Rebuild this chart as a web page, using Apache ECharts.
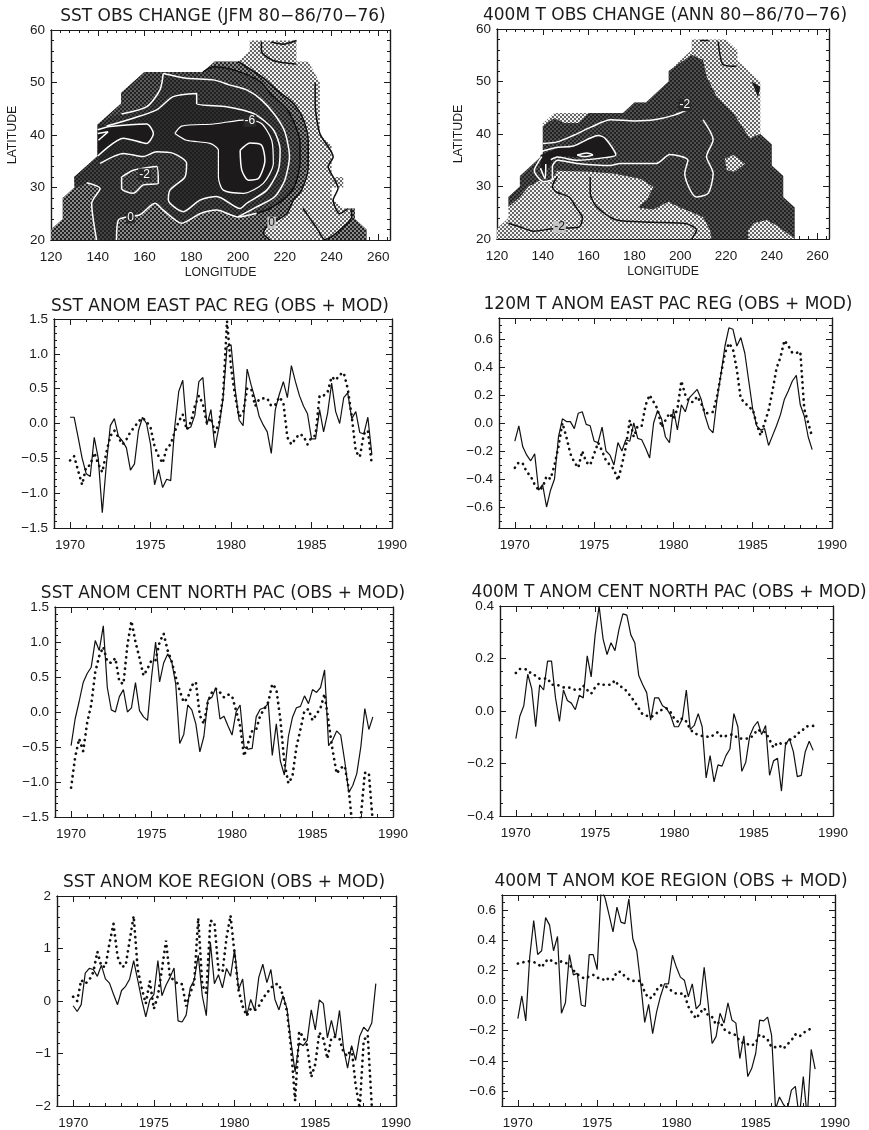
<!DOCTYPE html>
<html><head><meta charset="utf-8">
<style>html,body{margin:0;padding:0;background:#fff}#c{width:869px;height:1130px}</style>
<script src="https://cdn.jsdelivr.net/npm/echarts@6/dist/echarts.min.js"></script>
</head><body><div id="c"></div>
<script>
// ---------- time-series values (quarterly from 1970.0) ----------
const eastSstObs=[.09,.09,-.2,-.5,-.72,-.76,-.2,-.5,-1.28,-.6,-.03,.07,-.18,-.25,-.35,-.67,-.58,-.1,.09,0,-.3,-.88,-.66,-.92,-.8,-.82,-.05,.46,.62,-.08,-.05,.12,.6,.66,-.02,.2,-.35,-.05,.35,1.1,1.13,.5,.05,-.03,.78,.55,.35,.1,-.02,-.12,-.43,.2,.42,.6,.37,.83,.6,.4,.25,.14,-.22,-.22,.2,-.12,.15,.58,.17,0,.37,.44,.07,.17,-.13,-.15,.09,-.45];
const eastSstMod=[-.53,-.47,-.68,-.88,-.62,-.6,-.42,-.58,-.7,-.42,-.18,-.1,-.2,-.3,-.23,-.12,-.05,.03,.08,.03,-.06,-.33,-.47,-.57,-.35,-.3,-.12,.03,.13,-.09,.02,.25,.4,.28,0,.08,-.13,0,.38,1.47,.8,.4,.1,.15,.5,.5,.25,.35,.36,.36,.25,.27,.38,.3,-.2,-.3,-.22,-.15,-.18,-.3,-.2,-.17,.4,.4,.45,.67,.62,.7,.73,.5,.1,-.4,-.48,-.15,-.1,-.6];
const east120Obs=[-.13,-.02,-.17,-.23,-.27,-.22,-.48,-.44,-.6,-.48,-.4,-.1,.03,.01,.01,-.04,.07,.08,-.01,-.02,-.13,-.14,-.03,-.2,-.23,-.3,-.14,-.2,-.12,-.13,0,-.11,-.12,-.18,-.25,0,.09,.03,-.1,-.14,.1,-.05,.13,.08,.18,.21,.24,.17,.05,-.04,-.07,.17,.35,.55,.68,.67,.55,.61,.5,.3,.1,-.02,-.05,-.04,-.16,-.09,-.02,.06,.17,.23,.3,.34,.13,.05,-.1,-.19];
const east120Mod=[-.32,-.28,-.29,-.35,-.38,-.44,-.48,-.46,-.38,-.4,-.3,-.17,0,-.1,-.22,-.28,-.32,-.2,-.28,-.3,-.22,-.14,-.2,-.27,-.3,-.33,-.41,-.3,-.17,.02,-.1,-.02,-.02,.13,.2,.15,.1,-.03,.02,.07,.03,.1,.3,.2,.15,.15,.19,.14,.07,.07,.08,.19,.35,.5,.57,.53,.38,.17,.15,.11,.1,-.01,-.09,0,.09,.23,.39,.47,.59,.55,.5,.5,.51,.1,0,-.1];
const centSstObs=[-.48,-.1,.15,.42,.55,.64,1.02,.88,1.23,.35,.03,0,.22,.32,0,.06,.42,.02,-.07,-.12,.5,1.0,.43,.7,.83,.72,.4,-.45,-.32,.1,.03,-.17,-.57,-.35,.17,.21,.35,-.1,-.06,-.2,-.33,0,.1,-.5,-.53,-.52,-.07,.04,.06,.12,-.62,-.17,-.7,-.9,-.35,-.08,.06,.08,.23,.12,.32,.28,.35,.6,-.48,-.4,-.27,-.33,-.7,-1.15,-1.05,-.88,-.5,.05,-.25,-.07];
const centSstMod=[-1.08,-.65,-.38,-.56,-.15,.1,.57,.8,.93,.72,.7,.77,.43,.4,.96,1.3,1,.77,.52,.62,.74,.74,1,1.12,.88,.72,.5,.3,.14,.2,.38,.43,-.05,-.17,.15,.28,.33,.28,.21,.25,.23,.02,-.2,-.63,-.44,-.27,-.25,-.05,.04,.14,.4,.33,-.1,-.72,-1.02,-.92,-.5,-.25,.02,.04,-.12,-.03,.06,.26,-.15,-.55,-.88,-.8,-.77,-1.1,-1.7,-1.75,-1.5,-.87,-.87,-1.6];
const cent400Obs=[-.105,-.02,.02,.14,.085,-.06,.1,.08,.19,.19,.05,-.04,.08,.04,.03,.005,.06,.05,.21,.13,.29,.4,.275,.215,.26,.23,.31,.37,.365,.29,.26,.135,.1,.07,-.035,.05,.05,.02,.01,-.015,-.06,-.06,-.03,.08,-.07,-.055,-.01,-.06,-.255,-.17,-.27,-.205,-.21,-.17,-.145,-.01,-.06,-.23,-.195,-.095,-.06,-.04,-.09,-.055,-.245,-.19,-.18,-.305,-.13,-.105,-.155,-.25,-.245,-.155,-.115,-.15];
const cent400Mod=[.145,.16,.16,.157,.14,.135,.123,.123,.125,.1,.1,.097,.09,.09,.088,.08,.08,.097,.08,.066,.09,.105,.1,.1,.1,.117,.095,.09,.075,.055,.034,.01,-.014,-.018,-.023,-.017,0,.005,.01,-.004,-.03,-.042,-.027,-.04,-.07,-.085,-.09,-.095,-.097,-.1,-.09,-.08,-.1,-.095,-.09,-.09,-.105,-.105,-.105,-.105,-.09,-.07,-.08,-.08,-.11,-.14,-.12,-.125,-.125,-.11,-.105,-.085,-.08,-.06,-.057,-.057];
const koeSstObs=[-.09,-.2,-.07,.53,.62,.6,.47,.68,.42,.34,.13,-.07,.2,.28,.42,.77,.4,.02,-.3,.02,.12,.77,.1,.3,.45,.63,-.38,-.4,-.27,.25,.4,.87,.1,-.28,1.12,.33,.5,.25,.62,.47,.98,.22,.42,-.28,.03,-.18,.45,.7,.35,.6,.03,-.17,.1,-.15,-.8,-1.35,-.8,-.85,-.75,-.17,-.55,.02,-.05,-.7,-.37,-.7,-.18,-.9,-1.28,-.85,-1.13,-.67,-.5,-.58,-.42,.33];
const koeSstMod=[.08,0,.4,.33,.4,.55,.94,.66,.65,1.1,1.47,.85,.65,.67,1.15,1.62,.6,.24,-.05,.38,-.15,.1,.6,1.15,.45,.4,.32,.32,-.1,.15,.35,1.58,.3,.15,1.53,1.5,.6,.55,1.2,1.63,.9,.2,-.1,-.28,-.15,-.18,-.1,.05,.15,.25,.32,.32,.1,-.2,-.9,-1.9,-.58,-.68,-.85,-1.45,-1.2,-.6,-.72,-1.1,-.7,-.68,-.72,-.98,-1.05,-.9,-1.6,-2.05,-.75,-.65,-2,-2.2];
const koe400Obs=[-.12,.03,-.135,.29,.53,.305,.33,.55,.5,.33,.425,-.085,-.015,.305,.17,.18,-.03,-.04,.305,.305,.205,.74,.68,.57,.455,.62,.52,.51,.675,.41,.33,.11,-.145,-.025,-.22,-.075,.03,.11,.11,.3,.22,.155,.135,.025,.11,-.055,-.025,.22,-.02,-.285,-.24,-.085,-.15,-.015,-.13,-.15,-.385,-.235,-.505,-.45,-.35,-.13,-.135,-.11,-.23,-.72,-.64,-.69,-.72,-.595,-.57,-.78,-.505,-.78,-.325,-.455];
const koe400Mod=[.245,.25,.26,.26,.255,.245,.22,.26,.275,.25,.245,.26,.25,.24,.2,.175,.155,.145,.16,.17,.15,.15,.13,.15,.14,.19,.19,.16,.14,.13,.13,.13,.055,.015,.02,.07,.1,.1,.08,.06,.045,.045,.045,-.04,-.085,-.12,-.08,-.05,-.1,-.11,-.16,-.14,-.19,-.21,-.22,-.23,-.27,-.285,-.29,-.3,-.28,-.225,-.24,-.26,-.31,-.31,-.3,-.32,-.29,-.265,-.225,-.24,-.215,-.2,-.185];

// ---------- map A: regions and contours, [longitude, latitude] ----------
const aOuter=[[120,20],[120,22],[125,24],[125,28],[130,30],[130,32],[140,36],[140,42],[150,46],[150,48],[160,52],[185,52],[190,54],[200,54],[205,56],[205,58],[225,58],[225,54],[230,54],[235,50],[235,40],[240,38],[240,32],[245,32],[245,30],[240,30],[240,28],[245,26],[250,26],[250,24],[255,22],[255,20]];
const aEastBand=[[237,20],[240.8,20.9],[245,22.5],[248.6,24.4],[248.3,26],[250,26],[250,24],[255,22],[255,20]];
const aLight=[[200,54],[211,50.8],[216.5,48.6],[223.7,46],[228,42.9],[230,39],[230,34],[227.2,29.5],[223.7,27.6],[220.8,25],[212.3,22.5],[210.8,21.3],[213.7,20]];
const aMid=[[120,20],[120,22],[125,24],[125,28],[130,30],[130,32],[140,36],[140,42],[150,46],[150,48],[160,52],[185,52],[190,54]].concat(aLight);
const aSouthWest=[[135.3,30.9],[141,29.8],[137.4,27],[139.5,20]];
const aSouth=[[208,25.1],[200,24.4],[190.9,25.7],[183.7,25],[175.9,23.2],[168,25.7],[164.5,27],[158,24.8],[152.4,24.4],[148.8,23.8],[148,20]];
const aRing=[[185,52],[189.5,53],[198,52.4],[209.4,50.2],[214.4,47.6],[220.8,45],[224.4,41.9],[226.5,38.7],[226.5,34.9],[224.4,30.5],[220.8,28.3],[213.7,26],[208,25.1]];
const aNw=[[150.2,44],[161,45.4],[166.6,48.6],[168,51.7]];
const aInner=[[168,51.7],[178,50.8],[189.5,50.5],[196.6,49.5],[203.7,48.6],[210,46.7],[215.8,43.8],[220,40.6],[222,35.9],[220,31.4],[215.8,28.3],[208,26.3],[200,24.4]];
const aCore=[[143.8,41.7],[155.2,43.2],[165.2,44.8],[172.3,47.3],[182.3,47.9],[182.3,46],[195.1,45.4],[206.6,44.1],[215.1,41],[218,37.1],[217.2,33.3],[212.3,29.5],[203.7,27],[200.9,26],[190.9,28.3],[183.7,27.6],[176.6,25.4],[170.2,27.6],[170.9,29.5],[177.3,32],[178,34.6],[172.3,36.5],[165.2,36.8],[159.5,35.9],[151,36.5],[141,34.6]];
const aBlackEast=[[173,40.3],[175.9,41.7],[189.4,42.1],[203.7,42.9],[210,42.2],[214.4,39],[215.1,34.6],[210.8,30.8],[202.3,28.9],[193.7,29.5],[191.6,32],[191.6,37.1],[188,38.4],[178,39],[173,40.3]];
const aBlackWest=[[140,41],[145.2,41.6],[160.9,42.1],[163.8,40.3],[160.9,38.4],[151,39.4],[140,36]];
const aChevron=[[140,40.3],[144.4,40.6],[140.3,39]];
const aCentre=[[200.9,37.1],[205.1,38.5],[210,38.1],[211.5,35.2],[208.7,31.7],[204.4,31.4],[201.6,33.3],[200.9,37.1]];
const aPocket=[[150.2,32],[155.2,33.3],[165.2,34],[165.9,30.8],[159.5,30.5],[155.2,28.9],[150.2,29.8],[150.2,32]];
const aEast1=[[233,50],[233,46],[235,40.3],[240.7,35.8],[238.5,34],[240.7,32],[242.8,29.9],[240.7,27.6],[243.5,25],[247,26]];
const aEast2=[[227.8,26],[234.2,21.9],[237,20.1],[240.8,20.9],[245,22.5],[248.6,24.4],[248.3,26]];
const aTop1=[[210,57.7],[210,56],[215,54.2],[225,53.5]];
const aTop2=[[214.2,57.7],[219.2,57.3],[225,58]];
const aLabels=[[205.1,42.7,'-6','#fff'],[154,24.3,'0','#fff'],[160,32.5,'-2','#fff'],[214.4,23.3,'0','#111']];

// ---------- map B ----------
const bOuter=[[120,20],[120,22],[125,24],[125,28],[130,30],[130,32],[140,36],[140,42],[145,44],[160,44],[175,44],[180,46],[185,46],[195,50],[195,52],[205,56],[205,58],[220,58],[225,56],[225,54],[235,50],[235,40],[240,38],[240,34],[245,32],[245,28],[250,26],[250,20]];
const bDark=[[125,26.1],[125,28],[130,30],[130,32],[140,36],[140,41.5],[145,43],[149.6,42.1],[155.4,42.1],[160,44],[175,44],[180,46],[185,46],[195,50],[195,52],[205,55.1],[210,54.1],[211.5,51],[215.9,47.2],[223.2,44],[230.4,39.2],[235,40],[240,38],[240,34],[245,32],[245,28],[250,26],[250,20],[213.7,20],[213,21.7],[210,24.2],[199.9,26],[194.8,27.1],[188.3,25.6],[181.3,26],[185.4,27.4],[188.3,29.9],[182.5,31.5],[170.9,32.5],[160.7,32.8],[146.2,33],[144,31.2],[141,30.7],[138.9,31.2],[133.8,30],[130,28]];
const bPatchSe=[[229.7,20],[229.7,21.7],[232,23],[237.7,23.6],[242,22.6],[249.3,20.3],[250,20]];
const bPatchE=[[219.5,35.3],[223.2,36],[228.3,34.4],[224,32.8],[220.4,33.1]];
const bPatchNe=[[231.2,50],[235,49],[234,47]];
const bBlack=[[139,36],[146,37.2],[154,38],[165,39.6],[167,39.8],[171.6,36],[167,35.5],[155,35.6],[146,35.8],[143,34],[141,32.5],[139,33.5]];
const bWhite1=[[140,38.2],[146.4,38.5],[153.7,39.8],[161,41.3],[169.7,42.7],[180,42.5],[188.7,42.7],[197.4,43.6],[204.6,44.9]];
const bWhite2=[[210,42.7],[214.4,38.9],[211.5,35.7],[214.4,32.5],[212.2,28.7],[207,28],[202,32.5],[203.4,35],[195.5,36.1],[189.6,34.4],[173.8,34.4],[169.4,34],[155,34.4],[146.4,35],[144.2,33.8],[144.2,31.5],[140.6,30.9],[136.3,33],[139.6,35.7]];
const bWhite3=[[139.6,36.7],[145.4,37.4],[153.4,37.7],[164.3,39.7],[167.2,39.2],[171.9,36],[167,35.5],[155,35],[146.4,35.6],[143.5,35.1]];
const bWhite4=[[155,36],[159.2,36.4],[161.8,36],[158,35.7],[155,36]];
const bWhite5=[[139,33.5],[141,31.5],[141.3,34.3]];
const bBlack1=[[216.6,57.6],[218.8,53.2],[224.6,52.9]];
const bBlack2=[[208.6,57.8],[212.3,57.8]];
const bBlack3=[[125,23],[130.2,22.3],[136,21.5],[144.7,22],[155.9,22.3],[157.3,24],[154.4,26.1],[151.5,28],[145.7,29],[144.2,30],[146.4,31.9]];
const bBlack4=[[160.7,31.8],[160.7,28.7],[163.6,26.1],[172.3,23.6],[188.3,23.2],[202.8,22.9],[207.2,21.7],[205,20]];
const bLabels=[[202,45.5,'-2','#fff'],[147.3,22.3,'-2','#111']];

// ---------- text and tick labels ----------
const titles=['SST OBS CHANGE (JFM 80\u221286/70\u221276)','400M T OBS CHANGE (ANN 80\u221286/70\u221276)','SST ANOM EAST PAC REG (OBS + MOD)','120M T ANOM EAST PAC REG (OBS + MOD)','SST ANOM CENT NORTH PAC (OBS + MOD)','400M T ANOM CENT NORTH PAC (OBS + MOD)','SST ANOM KOE REGION (OBS + MOD)','400M T ANOM KOE REGION (OBS + MOD)'];
const lonTicks=[120,140,160,180,200,220,240,260];
const latTicks=[20,30,40,50,60];
const yearTicks=[1970,1975,1980,1985,1990];
const sstTicks=[-1.5,-1,-.5,0,.5,1,1.5];
const t120Ticks=[-.6,-.4,-.2,0,.2,.4,.6];
const t400Ticks=[-.4,-.2,0,.2,.4];
const koeSstTicks=[-2,-1,0,1,2];

// ---------- layout ----------
const panels=[
 {box:[51,30,339,210],tx:223,ty:8,x:[120,265],xt:lonTicks,xm:4,y:[20,60],yt:latTicks,ym:2,fmt:0},
 {box:[497,29,332,210],tx:665,ty:7,x:[120,265],xt:lonTicks,xm:4,y:[20,60],yt:latTicks,ym:2,fmt:0},
 {box:[54,319,338,209],tx:220,ty:298,x:[1969,1990],xt:yearTicks,xm:1,y:[-1.5,1.5],yt:sstTicks,ym:.1,fmt:1,obs:eastSstObs,mod:eastSstMod},
 {box:[499,318,333,210],tx:668,ty:296,x:[1969,1990],xt:yearTicks,xm:1,y:[-.75,.75],yt:t120Ticks,ym:.05,fmt:1,obs:east120Obs,mod:east120Mod},
 {box:[55,607,338,210],tx:223,ty:585,x:[1969,1990],xt:yearTicks,xm:1,y:[-1.5,1.5],yt:sstTicks,ym:.1,fmt:1,obs:centSstObs,mod:centSstMod},
 {box:[500,606,333,210],tx:669,ty:584,x:[1969,1990],xt:yearTicks,xm:1,y:[-.4,.4],yt:t400Ticks,ym:.05,fmt:1,obs:cent400Obs,mod:cent400Mod},
 {box:[57,896,339,211],tx:224,ty:874,x:[1969,1990],xt:yearTicks,xm:1,y:[-2,2],yt:koeSstTicks,ym:.2,fmt:0,obs:koeSstObs,mod:koeSstMod},
 {box:[502,895,333,211],tx:671,ty:873,x:[1969,1990],xt:yearTicks,xm:1,y:[-.7,.7],yt:t120Ticks,ym:.05,fmt:1,obs:koe400Obs,mod:koe400Mod}
];
const FONT='"Liberation Sans",Arial,sans-serif', TITLE_FONT='"DejaVu Sans",sans-serif', INK='#1c1a1a';

function stipple(bg,fg,size){
  const c=document.createElement('canvas');c.width=c.height=4;
  const g=c.getContext('2d');g.fillStyle=bg;g.fillRect(0,0,4,4);g.fillStyle=fg;
  g.fillRect(0,0,size,size);g.fillRect(2,2,size,size);
  return {image:c,repeat:'repeat'};
}
const L1=stipple('#f2f2f2','#666',2), L2=stipple('#222','#8a8a8a',2), L3=stipple('#222','#5c5c5c',2),
      L4=stipple('#202020','#444',2), L5=stipple('#1e1e1e','#2e2e2e',2), L6='#1c1a1a', LB=stipple('#222','#505050',2);

function steps(lo,hi,st){const r=[];const n=Math.round((hi-lo)/st);for(let k=0;k<=n;k++)r.push(+(lo+k*st).toFixed(4));return r;}
function minorList(p){
  const first=Math.ceil(p.y[0]/p.ym-1e-9)*p.ym;
  return steps(first,p.y[1],p.ym).filter(v=>v>=p.y[0]&&v<=p.y[1]);
}
function minusFmt(fmt){return v=>(fmt?v.toFixed(1):String(Math.round(v))).replace('-','\u2212');}

const grids=[],xAxes=[],yAxes=[],series=[],title=[];
panels.forEach((p,g)=>{
  const [l,t,w,h]=p.box;
  grids.push({left:l,top:t,width:w,height:h,show:false});
  title.push({text:titles[g],left:p.tx,top:p.ty,textAlign:'center',padding:0,
    textStyle:{fontFamily:TITLE_FONT,fontWeight:'normal',fontSize:17,color:INK}});
  const axisBase={gridIndex:g,type:'value',splitLine:{show:false},axisLine:{show:true,onZero:false,lineStyle:{color:INK,width:1.2}},scale:false};
  const xMinor=steps(Math.ceil(p.x[0]/p.xm)*p.xm,p.x[1],p.xm);
  const yMinor=minorList(p);
  const mk=(pos,vals,len,labels,extent,extra)=>Object.assign({},axisBase,{
    position:pos,min:extent[0],max:extent[1],
    axisTick:{show:true,inside:true,length:len,customValues:vals,lineStyle:{color:INK,width:1}},
    axisLabel:labels?Object.assign({show:true,customValues:vals,color:INK,fontFamily:FONT,fontSize:13.5},labels):{show:false}
  },extra||{});
  const isMap=g<2;
  xAxes.push(mk('bottom',p.xt,6,{margin:10,formatter:v=>String(v)},p.x,isMap?{name:'LONGITUDE',nameLocation:'middle',nameGap:27,nameTextStyle:{fontFamily:FONT,fontSize:12.3,color:INK}}:{}));
  xAxes.push(mk('bottom',xMinor,3,null,p.x));
  xAxes.push(mk('top',p.xt,6,null,p.x));
  xAxes.push(mk('top',xMinor,3,null,p.x));
  yAxes.push(mk('left',p.yt,6,{margin:6,formatter:minusFmt(p.fmt)},p.y,isMap?{name:'LATITUDE',nameLocation:'middle',nameGap:32,nameRotate:90,nameTextStyle:{fontFamily:FONT,fontSize:12.3,color:INK}}:{}));
  yAxes.push(mk('left',yMinor,3,null,p.y));
  yAxes.push(mk('right',p.yt,6,null,p.y));
  yAxes.push(mk('right',yMinor,3,null,p.y));
});
const ax=g=>({xAxisIndex:4*g,yAxisIndex:4*g});

function region(g,pts,fill,z){
  series.push(Object.assign({type:'custom',coordinateSystem:'cartesian2d',silent:true,z:z,clip:true,data:[[pts[0][0],pts[0][1]]],
    encode:{x:0,y:1},
    renderItem:(params,api)=>({type:'polygon',shape:{points:pts.map(q=>api.coord(q))},style:{fill:fill}})},ax(g)));
}
function contour(g,pts,color,width){
  series.push(Object.assign({type:'line',data:pts,showSymbol:false,symbol:'none',silent:true,z:20,smooth:.25,
    lineStyle:{color:color,width:width||1.5}},ax(g)));
}
function mapLabels(g,items){
  series.push(Object.assign({type:'custom',coordinateSystem:'cartesian2d',silent:true,z:30,data:items.map(d=>[d[0],d[1]]),encode:{x:0,y:1},
    renderItem:(params,api)=>{const c=api.coord([api.value(0),api.value(1)]);const d=items[params.dataIndex];
      return {type:'text',x:c[0],y:c[1],style:{text:d[2],fill:d[3],font:'12px '+FONT,align:'center',verticalAlign:'middle',
        backgroundColor:d[3]==='#fff'?'#2a2a2a':'#c4c4c4',padding:[0,1]}};}},ax(g)));
}
// map A
region(0,aOuter,L1,2); region(0,aEastBand,L2,3); region(0,aMid,L2,3);
region(0,aSouthWest.slice().reverse().concat([[130.3,29.8],[130,32],[140,36],[140,42],[150,46],[150,48],[160,52]]).concat(aRing).concat(aSouth),L3,4);
region(0,aSouthWest.slice().reverse().concat([[130.3,29.8],[130,32],[140,36],[140,42],[146,43.5]]).concat(aNw).concat(aInner).concat(aSouth.slice(1)),L4,5);
region(0,aCore.concat([[140,36],[140,42]]),L5,6);
region(0,aPocket,L3,7); region(0,aBlackEast,L6,7); region(0,aBlackWest,L6,7);
[aSouthWest,aSouth,aNw,aInner,aCore,aCentre,aPocket,aBlackWest,aChevron].forEach(c=>contour(0,c,'#fff'));
contour(0,aBlackEast,'#fff',1.2);
[aLight,aRing,aEast1,aEast2,aTop1,aTop2].forEach(c=>contour(0,c,'#111'));
mapLabels(0,aLabels);
// map B
region(1,bOuter,L1,2); region(1,bDark,LB,3); region(1,bPatchSe,L1,4); region(1,bPatchE,L1,4); region(1,bPatchNe,L6,4); region(1,bBlack,L6,5);
[bWhite1,bWhite2,bWhite3,bWhite4,bWhite5].forEach(c=>contour(1,c,'#fff'));
[bBlack1,bBlack2,bBlack3,bBlack4].forEach(c=>contour(1,c,'#111'));
mapLabels(1,bLabels);
// time series
panels.forEach((p,g)=>{
  if(!p.obs)return;
  const toPts=a=>a.map((v,i)=>[1970+i/4,v]);
  series.push(Object.assign({type:'line',name:'OBS',data:toPts(p.obs),symbol:'none',silent:true,clip:true,z:5,lineStyle:{color:'#111',width:1.2}},ax(g)));
  series.push(Object.assign({type:'line',name:'MOD',data:toPts(p.mod),symbol:'none',silent:true,clip:true,z:6,lineStyle:{color:'#111',width:2.7,type:[0.1,5.6],cap:'round'}},ax(g)));
});

const chart=echarts.init(document.getElementById('c'),null,{renderer:'canvas',width:869,height:1130});
chart.setOption({animation:false,backgroundColor:'#fff',title,grid:grids,xAxis:xAxes,yAxis:yAxes,series});
</script></body></html>
